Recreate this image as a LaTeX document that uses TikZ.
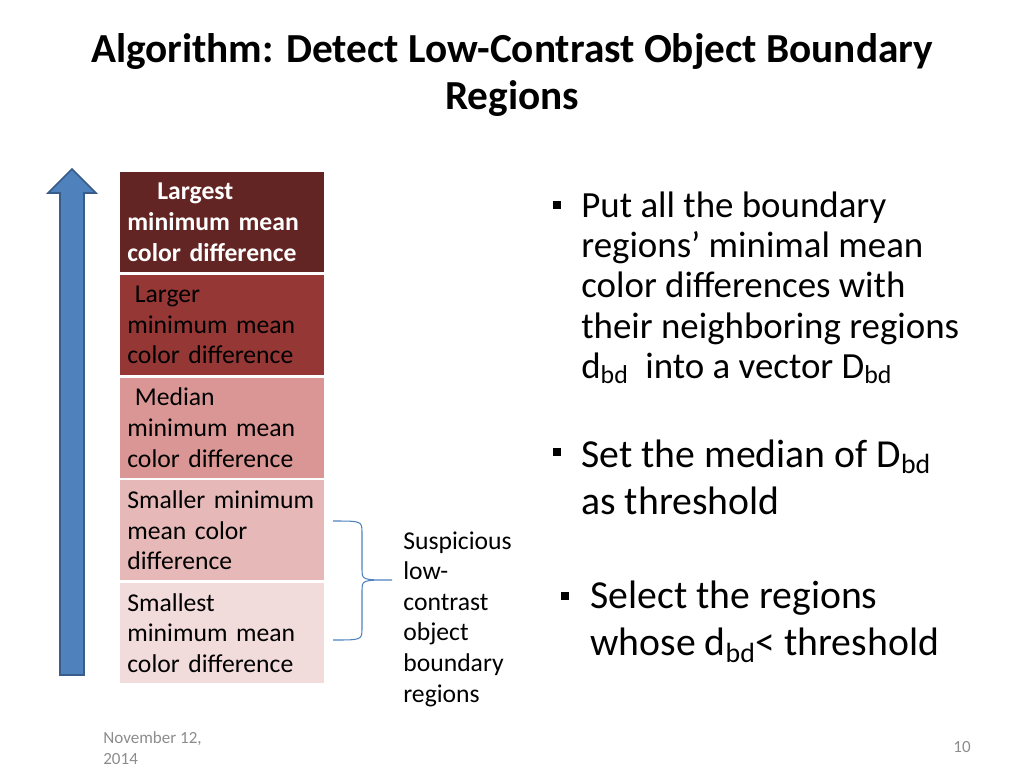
\documentclass[tikz,border=0pt]{standalone}
\usepackage{fontspec}
\setmainfont{Carlito}
\usetikzlibrary{positioning,calc}
\definecolor{sav1}{RGB}{99,37,35}
\definecolor{sav2}{RGB}{149,55,53}
\definecolor{sav3}{RGB}{217,150,148}
\definecolor{sav4}{RGB}{230,185,184}
\definecolor{sav5}{RGB}{242,220,219}
\definecolor{kek}{RGB}{79,129,189}
\definecolor{kekkeret}{RGB}{56,93,138}
\definecolor{szurke}{RGB}{140,140,140}
\tikzset{
  cell/.style={anchor=north west,minimum width=4.08cm,minimum height=2cm,text width=3.8cm,
    inner xsep=0.14cm,inner ysep=0pt,align=left,font=\fontsize{14.6}{17.4}\selectfont},
  sq/.style={fill,inner sep=0pt,minimum size=0.17cm},
  pont1/.style={anchor=west,align=left,inner sep=0pt,font=\fontsize{21}{22.8}\selectfont},
  pont2/.style={anchor=west,align=left,inner sep=0pt,font=\fontsize{22.6}{26.7}\selectfont},
  brc/.style={kek,line width=0.6pt},
}

\begin{document}
\begin{tikzpicture}[x=0.02cm,y=-0.02cm]
  \useasboundingbox (0,0) rectangle (1024,768);
  % title
  \node[align=center,font=\bfseries\fontsize{23.5}{26.2}\selectfont] (cim) at (512,75)
    {Algorithm: Detect Low-Contrast Object Boundary\\ Regions};
  % up arrow
  \draw[fill=kek,draw=kekkeret,line width=1pt] (60,675) -- (60,193) -- (48,193) -- (72,169)
    -- (96,193) -- (84,193) -- (84,675) -- cycle;
  % stacked boxes
  \node[cell,fill=sav1,text=white,font=\bfseries\fontsize{14.6}{17.4}\selectfont] (b1) at (120,172)
    {\hspace{0.6cm}Largest\\ minimum mean\\ color difference};
  \node[cell,fill=sav2,below=0.04cm of b1] (b2) {\hspace{0.15cm}Larger\\ minimum mean\\ color difference};
  \node[cell,fill=sav3,below=0.04cm of b2] (b3) {\hspace{0.15cm}Median\\ minimum mean\\ color difference};
  \node[cell,fill=sav4,below=0.04cm of b3] (b4) {Smaller minimum\\ mean color\\ difference};
  \node[cell,fill=sav5,below=0.04cm of b4] (b5) {Smallest\\ minimum mean\\ color difference};
  % brace
  \draw[brc] (333,521) .. controls (362,521) .. (362,533) -- (362,569)
    .. controls (362,580) .. (392,580) .. controls (362,580) .. (362,591)
    -- (362,628) .. controls (362,640) .. (333,640);
  \node[align=left,anchor=west,inner sep=0pt,font=\fontsize{14.6}{17.4}\selectfont] (gyanus) at (403,619)
    {Suspicious\\ low-\\ contrast\\ object\\ boundary\\ regions};
  % bullets
  \node[sq] (p1) at (557,205) {};
  \node[pont1] (t1) at (581,288) {Put all the boundary\\ regions’ minimal mean\\ color differences with\\
    their neighboring regions\\ d\textsubscript{bd}\ \ into a vector D\textsubscript{bd}};
  \node[sq] (p2) at (557,452) {};
  \node[pont2] (t2) at (581,477) {Set the median of D\textsubscript{bd}\\ as threshold};
  \node[sq] (p3) at (565,596) {};
  \node[pont2] (t3) at (590,622) {Select the regions\\ whose d\textsubscript{bd}< threshold};
  % footer
  \node[anchor=west,align=left,text=szurke,inner sep=0pt,font=\fontsize{9.7}{12}\selectfont] (datum) at (103,748)
    {November 12,\\ 2014};
  \node[anchor=east,text=szurke,inner sep=0pt,font=\fontsize{9.7}{12}\selectfont] (old) at (971,747) {10};
\end{tikzpicture}
\end{document}
